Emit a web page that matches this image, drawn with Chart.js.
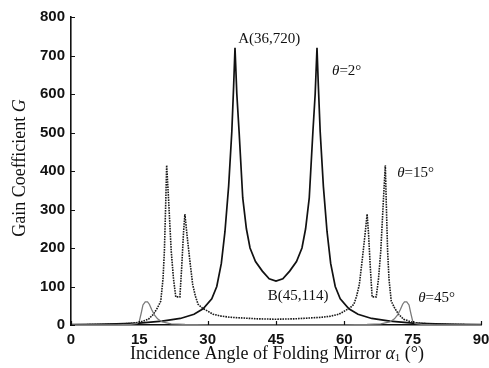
<!DOCTYPE html>
<html>
<head>
<meta charset="utf-8">
<script src="https://cdn.jsdelivr.net/npm/chart.js@4.4.0/dist/chart.umd.min.js"></script>
<style>
  html, body { margin: 0; padding: 0; background: #fff; }
</style>
</head>
<body>
<canvas id="gainChart" width="489" height="368"></canvas>
<script>
// theta = 2 deg
const x2 = [0, 5, 10, 15, 20, 24, 27, 29, 30.9, 32, 33, 33.8, 34.6, 35.3, 35.7, 36, 36.4, 36.9, 37.7, 38.5, 39.3, 40.5, 42, 43.5, 45,
  46.5, 48, 49.5, 50.7, 51.5, 52.3, 53.1, 53.6, 54, 54.3, 54.7, 55.4, 56.2, 57, 58, 59.1, 61, 63, 66, 70, 75, 80, 85, 90];
const g2 = [1, 2, 3, 5, 10, 17, 28, 42, 68, 100, 160, 243, 360, 502, 620, 720, 600, 502, 330, 250, 200, 165, 140, 120, 114,
  120, 140, 165, 200, 250, 330, 502, 600, 720, 620, 502, 360, 243, 160, 100, 68, 42, 28, 17, 10, 5, 3, 2, 1];

// theta = 15 deg
const x15 = [0, 5, 10, 13, 15, 17, 18.1, 19, 19.7, 20.2, 20.5, 20.8, 21, 21.4, 22, 22.5, 23, 23.9, 24.3, 24.7, 25, 25.5, 26.1, 26.7, 27.3, 27.9, 28.7, 30, 31.2, 33, 35, 38, 41, 45,
  49, 52, 55, 57, 58.8, 60, 61.3, 62.1, 62.7, 63.3, 63.9, 64.5, 65, 65.3, 65.7, 66.1, 67, 67.5, 68, 68.6, 69, 69.2, 69.5, 69.8, 70.3, 71, 71.9, 73, 75, 77, 80, 85, 90];
const g15 = [0.5, 1, 2, 4, 7, 15, 28, 45, 62, 120, 192, 320, 415, 330, 192, 120, 73, 73, 150, 240, 288, 230, 166, 106, 75, 54, 45, 36, 28, 23, 20, 18, 16, 15,
  16, 18, 20, 23, 28, 36, 45, 54, 75, 106, 166, 230, 288, 240, 150, 73, 73, 120, 192, 330, 415, 320, 192, 120, 62, 45, 28, 15, 7, 4, 2, 1, 0.5];

// theta = 45 deg
const x45 = [0, 10, 13, 14.5, 15, 15.4, 15.8, 16.3, 16.8, 17.2, 17.7, 18.3, 19, 20, 22, 25, 30, 40, 45,
  50, 60, 65, 68, 70, 71, 71.7, 72.3, 72.8, 73.2, 73.7, 74.2, 74.6, 75, 75.5, 77, 80, 90];
const g45 = [0, 0.5, 1.5, 4, 10, 30, 52, 60, 60, 54, 40, 26, 16, 8, 3, 1.5, 0.5, 0.2, 0.2,
  0.2, 0.5, 1.5, 3, 8, 16, 26, 40, 54, 60, 60, 52, 30, 10, 4, 1.5, 0.5, 0];

const xTicks = [0, 15, 30, 45, 60, 75, 90];
const yTicks = [0, 100, 200, 300, 400, 500, 600, 700, 800];

// point labels (placed in data coordinates)
const pointLabels = ['A(36,720)', 'B(45,114)'];
const pointLabelX = [36.7, 43.2];
const pointLabelY = [743, 75];

const thetaLabels = ['2°', '15°', '45°'];
const thetaLabelX = [57.3, 71.6, 76.2];
const thetaLabelY = [660, 395, 70];

const serif = '"Liberation Serif", "Times New Roman", serif';

function toPoints(xs, ys) {
  return xs.map((v, i) => ({ x: v, y: ys[i] }));
}

// draws a run of text pieces, each with own style
function drawParts(ctx, parts, x, y, align) {
  let total = 0;
  parts.forEach(p => { ctx.font = p.font; total += ctx.measureText(p.t).width; });
  let cx = align === 'center' ? x - total / 2 : x;
  parts.forEach(p => {
    ctx.font = p.font;
    ctx.fillText(p.t, cx, y + (p.dy || 0));
    cx += ctx.measureText(p.t).width;
  });
}

const decorations = {
  id: 'decorations',
  afterDraw(chart) {
    const { ctx, scales: { x, y } } = chart;
    ctx.save();
    ctx.strokeStyle = '#111';
    ctx.lineWidth = 1.2;
    ctx.beginPath();
    xTicks.forEach(v => {
      const px = Math.round(x.getPixelForValue(v)) + 0.5;
      ctx.moveTo(px, y.bottom);
      ctx.lineTo(px, y.bottom - 4);
    });
    yTicks.forEach(v => {
      const py = Math.round(y.getPixelForValue(v)) + 0.5;
      ctx.moveTo(x.left, py);
      ctx.lineTo(x.left + 4, py);
    });
    ctx.stroke();

    ctx.fillStyle = '#111';
    ctx.textBaseline = 'middle';
    ctx.textAlign = 'left';
    pointLabels.forEach((t, i) => {
      ctx.font = '15px ' + serif;
      ctx.fillText(t, x.getPixelForValue(pointLabelX[i]), y.getPixelForValue(pointLabelY[i]));
    });
    thetaLabels.forEach((t, i) => {
      drawParts(ctx, [
        { t: 'θ', font: 'italic 15px ' + serif },
        { t: '=' + t, font: '15px ' + serif }
      ], x.getPixelForValue(thetaLabelX[i]), y.getPixelForValue(thetaLabelY[i]), 'left');
    });

    // axis titles
    drawParts(ctx, [
      { t: 'Incidence Angle of Folding Mirror ', font: '18px ' + serif },
      { t: 'α', font: 'italic 18px ' + serif },
      { t: '1', font: '11px ' + serif, dy: 4 },
      { t: ' (°)', font: '18px ' + serif }
    ], 277, 354, 'center');

    ctx.translate(20, 168);
    ctx.rotate(-Math.PI / 2);
    drawParts(ctx, [
      { t: 'Gain Coefficient ', font: '18px ' + serif },
      { t: 'G', font: 'italic 18px ' + serif }
    ], 0, 0, 'center');
    ctx.restore();
  }
};

const tickFont = { family: '"Liberation Sans", Arial, sans-serif', size: 15, weight: 'bold' };

new Chart(document.getElementById('gainChart'), {
  type: 'scatter',
  data: {
    datasets: [
      {
        label: 'θ=45°',
        data: toPoints(x45, g45),
        showLine: true,
        borderColor: '#7a7a7a',
        borderWidth: 1.3,
        pointRadius: 0,
        tension: 0
      },
      {
        label: 'θ=15°',
        data: toPoints(x15, g15),
        showLine: true,
        borderColor: '#1a1a1a',
        borderWidth: 1.6,
        borderDash: [1.6, 1],
        pointRadius: 0,
        tension: 0
      },
      {
        label: 'θ=2°',
        data: toPoints(x2, g2),
        showLine: true,
        borderColor: '#111',
        borderWidth: 1.7,
        pointRadius: 0,
        tension: 0
      }
    ]
  },
  options: {
    responsive: false,
    animation: false,
    events: [],
    layout: { padding: { left: 0, top: 17, right: 8, bottom: 0 } },
    plugins: {
      legend: { display: false },
      tooltip: { enabled: false }
    },
    scales: {
      x: {
        type: 'linear',
        min: 0,
        max: 90,
        grid: { display: false, drawTicks: false },
        border: { display: true, color: '#111', width: 1.6 },
        ticks: { color: '#111', font: tickFont, padding: 6, maxRotation: 0 },
        afterBuildTicks: s => { s.ticks = xTicks.map(v => ({ value: v })); },
        afterFit: s => { s.height = 43; s.paddingLeft = 0; s.paddingRight = 0; }
      },
      y: {
        type: 'linear',
        min: 0,
        max: 800,
        grid: { display: false, drawTicks: false },
        border: { display: true, color: '#111', width: 1.6 },
        ticks: { color: '#111', font: tickFont, padding: 6 },
        afterBuildTicks: s => { s.ticks = yTicks.map(v => ({ value: v })); },
        afterFit: s => { s.width = 71; s.paddingTop = 0; s.paddingBottom = 0; }
      }
    }
  },
  plugins: [decorations]
});
</script>
</body>
</html>
